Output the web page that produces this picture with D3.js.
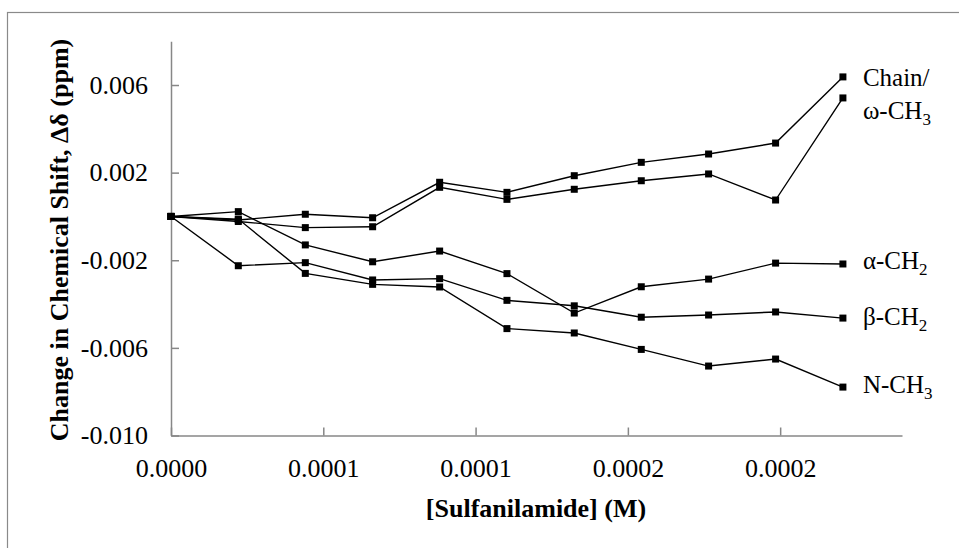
<!DOCTYPE html>
<html lang="en">
<head>
    <meta charset="UTF-8">
    <title>Chemical Shift vs Sulfanilamide</title>
    <script src="https://d3js.org/d3.v7.min.js"></script>
    <style>
        body {
            margin: 0;
            background: #fff;
        }
        svg {
            display: block;
            font-family: "Liberation Serif", "Times New Roman", serif;
        }
        .axis path, .axis line {
            stroke: #878787;
            stroke-width: 1.5;
        }
        .axis text {
            font-family: "Liberation Serif", "Times New Roman", serif;
            font-size: 26px;
            fill: #000;
        }
        .series {
            fill: none;
            stroke: #000;
            stroke-width: 1.4;
        }
    </style>
</head>
<body>
<script>
    // concentrations (M)
    const conc = [0, 0.0000221, 0.0000441, 0.0000662, 0.0000882, 0.0001103,
                  0.0001324, 0.0001544, 0.0001765, 0.0001985, 0.0002206];

    // change in chemical shift (ppm)
    const chain = [0, -0.00016, 0.00010, -0.00006, 0.00156, 0.00110, 0.00186, 0.00247, 0.00285, 0.00335, 0.00637];
    const omegaCH3 = [0, -0.00023, -0.00051, -0.00047, 0.00133, 0.00078, 0.00124, 0.00163, 0.00194, 0.00075, 0.00541];
    const alphaCH2 = [0, 0.00022, -0.00130, -0.00207, -0.00158, -0.00261, -0.00441, -0.00321, -0.00286, -0.00213, -0.00217];
    const betaCH2 = [0, -0.00225, -0.00211, -0.00290, -0.00284, -0.00383, -0.00408, -0.00460, -0.00450, -0.00436, -0.00464];
    const nCH3 = [0, -0.00012, -0.00260, -0.00310, -0.00322, -0.00512, -0.00532, -0.00607, -0.00683, -0.00651, -0.00779];

    const xTicks = [0, 0.00005, 0.0001, 0.00015, 0.0002];
    const xTickLabels = ["0.0000", "0.0001", "0.0001", "0.0002", "0.0002"];
    const yTicks = [-0.010, -0.006, -0.002, 0.002, 0.006];
    const yTickLabels = ["-0.010", "-0.006", "-0.002", "0.002", "0.006"];

    const w = 959, h = 548;

    const svg = d3.select("body").append("svg")
        .attr("width", w)
        .attr("height", h);

    // chart frame (runs off the right and bottom edges)
    svg.append("rect")
        .attr("x", 7.5).attr("y", 12.5)
        .attr("width", 980).attr("height", 560)
        .attr("fill", "none")
        .attr("stroke", "#8a8a8a")
        .attr("stroke-width", 1.2);

    const x = d3.scaleLinear().domain([0, 0.00024]).range([171, 902]);
    const y = d3.scaleLinear().domain([-0.010, 0.008]).range([435.5, 41.2]);

    svg.append("g")
        .attr("class", "axis")
        .attr("transform", "translate(0,435.5)")
        .call(d3.axisBottom(x)
            .tickValues(xTicks)
            .tickFormat((d, i) => xTickLabels[i])
            .tickSizeInner(-8)
            .tickSizeOuter(0)
            .tickPadding(23));

    svg.append("g")
        .attr("class", "axis")
        .attr("transform", "translate(171,0)")
        .call(d3.axisLeft(y)
            .tickValues(yTicks)
            .tickFormat((d, i) => yTickLabels[i])
            .tickSizeInner(-8)
            .tickSizeOuter(0)
            .tickPadding(23));

    // axis titles
    svg.append("text")
        .attr("x", 536)
        .attr("y", 517)
        .attr("text-anchor", "middle")
        .attr("font-size", 26)
        .attr("font-weight", "bold")
        .text("[Sulfanilamide] (M)");

    svg.append("text")
        .attr("transform", "translate(68,240) rotate(-90)")
        .attr("text-anchor", "middle")
        .attr("font-size", 26)
        .attr("font-weight", "bold")
        .text("Change in Chemical Shift, \u0394\u03b4 (ppm)");

    const series = [
        { name: "Chain/", sub: "", values: chain, dy: 9 },
        { name: "\u03c9-CH", sub: "3", values: omegaCH3, dy: 21 },
        { name: "\u03b1-CH", sub: "2", values: alphaCH2, dy: 5 },
        { name: "\u03b2-CH", sub: "2", values: betaCH2, dy: 7 },
        { name: "N-CH", sub: "3", values: nCH3, dy: 6 }
    ];

    const line = d3.line()
        .x((d, i) => x(conc[i]))
        .y(d => y(d));

    const ms = 7;

    series.forEach(s => {
        svg.append("path")
            .attr("class", "series")
            .attr("d", line(s.values));

        svg.append("g").selectAll("rect")
            .data(s.values)
            .enter()
            .append("rect")
            .attr("x", (d, i) => x(conc[i]) - ms / 2)
            .attr("y", d => y(d) - ms / 2)
            .attr("width", ms)
            .attr("height", ms)
            .attr("fill", "#000");

        const last = s.values.length - 1;
        const t = svg.append("text")
            .attr("x", x(conc[last]) + 20)
            .attr("y", y(s.values[last]) + s.dy)
            .attr("font-size", 25)
            .text(s.name);
        if (s.sub) {
            t.append("tspan")
                .attr("font-size", 17)
                .attr("dy", 6)
                .text(s.sub);
        }
    });
</script>
</body>
</html>
